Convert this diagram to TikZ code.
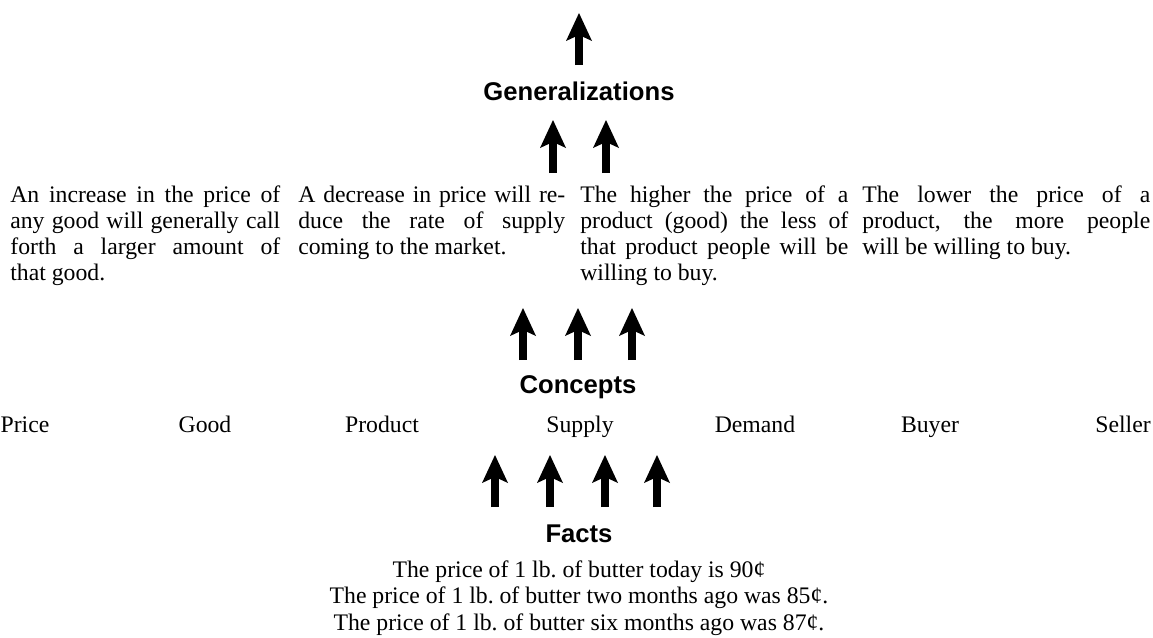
\documentclass[tikz,border=0pt]{standalone}
\usepackage{fontspec}
\setmainfont{Liberation Serif}
\newfontfamily\headfont{Liberation Sans}
\usetikzlibrary{arrows.meta,positioning}
\tolerance=10000
\hbadness=10000
\frenchspacing

\begin{document}
\begin{tikzpicture}[x=0.02cm,y=-0.02cm,
  every node/.style={inner sep=0pt},
  heading/.style={font=\headfont\bfseries\fontsize{14.6}{17}\selectfont, anchor=base},
  word/.style={font=\fontsize{13.5}{14.8}\selectfont, anchor=base},
  para/.style={font=\fontsize{13.5}{14.8}\selectfont, align=justify, anchor=base west},
  uparrow/.style={line width=4pt,
    -{Stealth[length=0.56cm,width=0.52cm,inset=0.12cm,line width=0pt]}}]
\useasboundingbox (0,0) rectangle (1153,637);

% headings
\node[heading] (gen) at (579,100) {Generalizations};
\node[heading] (con) at (578,393) {Concepts};
\node[heading] (fac) at (579,542) {Facts};

% generalizations
\node[para, text width=5.4cm] (g1) at (10,202) {An increase in the price of\linebreak any good will generally call\linebreak forth a larger amount of\linebreak that good.};
\node[para, text width=5.34cm] (g2) at (298,202) {A decrease in price will re-\linebreak duce the rate of supply\linebreak coming to the market.};
\node[para, text width=5.36cm] (g3) at (580,202) {The higher the price of a\linebreak product (good) the less of\linebreak that product people will be\linebreak willing to buy.};
\node[para, text width=5.76cm] (g4) at (862,202) {The lower the price of a\linebreak product, the more people\linebreak will be willing to buy.};

% concepts
\foreach \x/\w [count=\i] in {25/Price,205/Good,382/Product,580/Supply,755/Demand,930/Buyer,1123/Seller}
  \node[word] (c\i) at (\x,432) {\w};

% facts
\node[word, align=center, font=\fontsize{13.5}{15}\selectfont] (f) at (579,630) {The price of 1 lb. of butter today is 90¢\\
The price of 1 lb. of butter two months ago was 85¢.\\
The price of 1 lb. of butter six months ago was 87¢.};

% arrows
\draw[uparrow] (579,65) -- (579,13);
\foreach \x in {553,606}
  \draw[uparrow] (\x,173) -- (\x,120);
\foreach \x in {523,578,632}
  \draw[uparrow] (\x,360) -- (\x,308);
\foreach \x in {495,550,605,657}
  \draw[uparrow] (\x,507) -- (\x,455);
\end{tikzpicture}
\end{document}
